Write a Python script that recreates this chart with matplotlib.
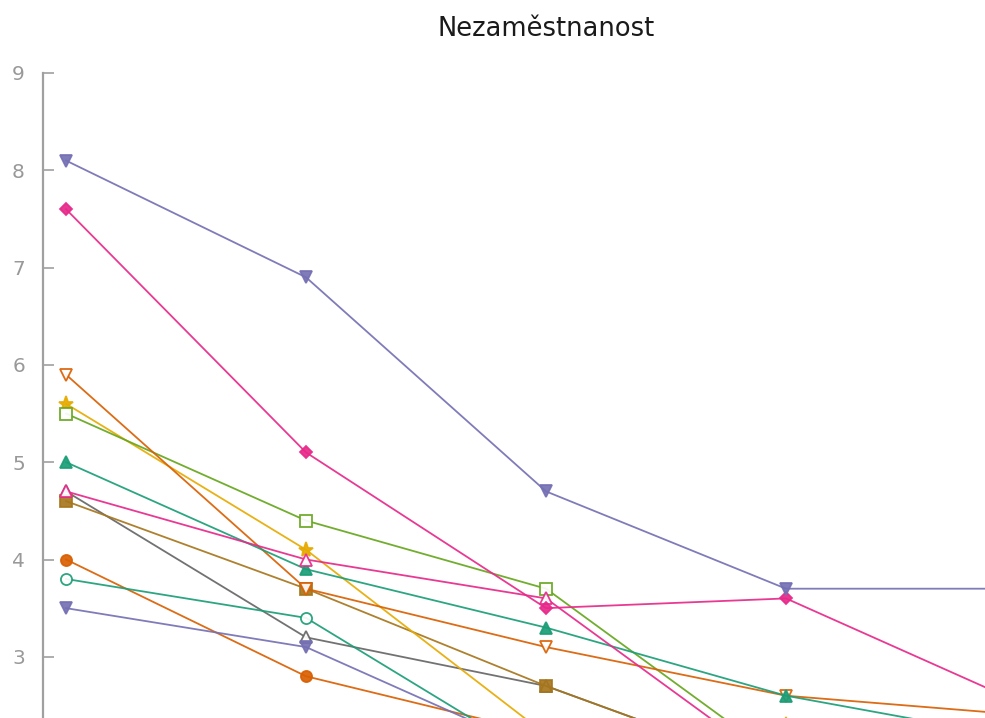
import numpy as np
import matplotlib
matplotlib.use("Agg")
import matplotlib.pyplot as plt

nan = np.nan
title = "Nezaměstnanost"
categories = [0, 1, 2, 3, 4]
y_ticks = [3, 4, 5, 6, 7, 8, 9]

# series values (one list per line); NaN = off the visible area
s_teal_tri = [5.0, 3.9, 3.3, 2.6, 2.15]
s_orange_circ = [4.0, 2.8, 2.2, nan, nan]
s_purple_top = [8.1, 6.9, 4.7, 3.7, 3.7]
s_pink_diamond = [7.6, 5.1, 3.5, 3.6, 2.5]
s_green_sq = [5.5, 4.4, 3.7, 1.9, nan]
s_yellow_star = [5.6, 4.1, 2.2, 2.3, nan]
s_brown_sq = [4.6, 3.7, 2.7, 1.8, nan]
s_grey_tri = [4.7, 3.2, 2.7, 1.8, nan]
s_teal_circ = [3.8, 3.4, 1.9, nan, nan]
s_orange_dtri = [5.9, 3.7, 3.1, 2.6, 2.4]
s_purple_low = [3.5, 3.1, 2.0, nan, nan]
s_pink_tri = [4.7, 4.0, 3.6, 1.8, nan]

teal, orange, purple, pink = "#1B9E77", "#D95F02", "#7570B3", "#E7298A"
green, yellow, brown, grey = "#66A61E", "#E6AB02", "#A6761D", "#666666"

series = [
    (s_grey_tri, grey, "^", False, 8),
    (s_brown_sq, brown, "s", True, 8),
    (s_orange_circ, orange, "o", True, 8),
    (s_teal_circ, teal, "o", False, 8),
    (s_purple_low, purple, "v", True, 8),
    (s_yellow_star, yellow, "*", True, 11),
    (s_green_sq, green, "s", False, 8),
    (s_orange_dtri, orange, "v", False, 8),
    (s_teal_tri, teal, "^", True, 8),
    (s_pink_tri, pink, "^", False, 8),
    (s_pink_diamond, pink, "D", True, 6.5),
    (s_purple_top, purple, "v", True, 8),
]

W, H = 985, 718
fig = plt.figure(figsize=(W / 100, H / 100), dpi=100)
fig.patch.set_facecolor("white")

# axes geometry in pixels (axes extend past the figure edges, as in the cropped reference)
x_lo, x_hi = -0.096, 4.096
px_left = 43
px_per_x = 240.0
px_right = px_left + (x_hi - x_lo) * px_per_x
y_lo, y_hi = 1.0, 9.0
px_top = 73
px_per_y = 97.3
px_bottom = px_top + (y_hi - y_lo) * px_per_y

ax = fig.add_axes([px_left / W, (H - px_bottom) / H,
                   (px_right - px_left) / W, (px_bottom - px_top) / H])
ax.set_xlim(x_lo, x_hi)
ax.set_ylim(y_lo, y_hi)

for vals, col, mk, filled, ms in series:
    ax.plot(categories, vals, color=col, lw=1.3, marker=mk, ms=ms,
            mfc=col if filled else "white", mec=col, mew=1.3, alpha=0.92)

for s in ["top", "right", "bottom"]:
    ax.spines[s].set_visible(False)
ax.spines["left"].set_color("#a0a0a0")
ax.spines["left"].set_linewidth(1.6)
ax.set_xticks([])
ax.set_yticks(y_ticks)
ax.tick_params(axis="y", direction="in", length=8, width=1.2, color="#a0a0a0",
               labelcolor="#999999", labelsize=14.5, pad=13)
ax.set_title(title, fontsize=18.5, color="#1a1a1a", pad=27)

fig.savefig("out.png", dpi=100)
